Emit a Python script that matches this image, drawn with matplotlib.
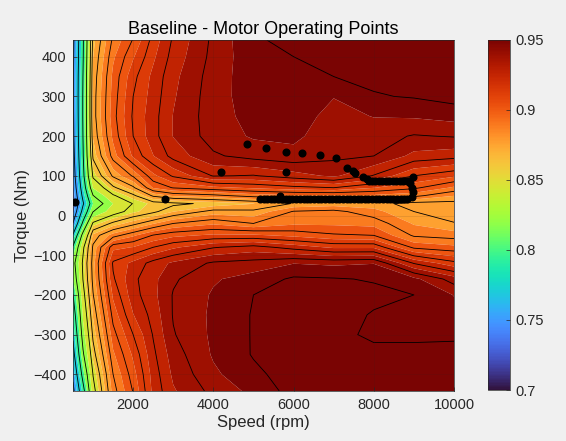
import numpy as np
import matplotlib
matplotlib.use("Agg")
import matplotlib.pyplot as plt
from matplotlib.colors import Normalize
from matplotlib.cm import ScalarMappable

plt.rcParams['font.family'] = ['Liberation Sans', 'DejaVu Sans']

# Efficiency map grid: speed columns (rpm) x torque rows (Nm)
speed_rpm = [500, 750, 1000, 1500, 2000, 2500, 3000, 4000, 5000, 6000, 7000, 8000, 9000, 10000]
torque_nm = [-442, -400, -350, -300, -250, -200, -160, -120, -80, -50, -20, 10, 30,
             50, 70, 100, 150, 200, 250, 300, 350, 400, 442]

# efficiency along torque_nm for each speed column
eff_500 = [0.752, 0.762, 0.775, 0.786, 0.796, 0.807, 0.820, 0.826, 0.810, 0.785, 0.758, 0.740, 0.733,
           0.737, 0.741, 0.746, 0.750, 0.753, 0.754, 0.755, 0.755, 0.754, 0.753]
eff_750 = [0.800, 0.815, 0.830, 0.840, 0.847, 0.853, 0.858, 0.860, 0.855, 0.840, 0.812, 0.790, 0.780,
           0.788, 0.795, 0.802, 0.806, 0.808, 0.809, 0.809, 0.808, 0.806, 0.805]
eff_1000 = [0.853, 0.858, 0.866, 0.872, 0.877, 0.882, 0.885, 0.886, 0.884, 0.878, 0.860, 0.832, 0.820,
            0.832, 0.846, 0.860, 0.872, 0.877, 0.879, 0.879, 0.878, 0.876, 0.874]
eff_1500 = [0.892, 0.895, 0.900, 0.905, 0.910, 0.915, 0.919, 0.921, 0.912, 0.892, 0.872, 0.852, 0.845,
            0.856, 0.868, 0.884, 0.898, 0.903, 0.905, 0.904, 0.903, 0.900, 0.8965]
eff_2000 = [0.908, 0.911, 0.915, 0.920, 0.926, 0.930, 0.931, 0.928, 0.914, 0.900, 0.880, 0.862, 0.858,
            0.868, 0.881, 0.896, 0.915, 0.920, 0.921, 0.920, 0.918, 0.913, 0.908]
eff_2500 = [0.928, 0.929, 0.931, 0.933, 0.935, 0.937, 0.937, 0.935, 0.920, 0.908, 0.888, 0.868, 0.866,
            0.884, 0.902, 0.912, 0.926, 0.930, 0.930, 0.929, 0.928, 0.925, 0.9225]
eff_3000 = [0.938, 0.940, 0.942, 0.9445, 0.9455, 0.9455, 0.944, 0.940, 0.925, 0.912, 0.895, 0.876, 0.868,
            0.890, 0.908, 0.921, 0.935, 0.939, 0.939, 0.938, 0.937, 0.935, 0.9335]
eff_4000 = [0.947, 0.950, 0.952, 0.9525, 0.9525, 0.952, 0.9505, 0.946, 0.932, 0.915, 0.900, 0.885, 0.872,
            0.893, 0.912, 0.933, 0.944, 0.948, 0.9485, 0.9485, 0.948, 0.947, 0.9465]
eff_5000 = [0.953, 0.956, 0.958, 0.958, 0.958, 0.9575, 0.954, 0.9475, 0.935, 0.915, 0.895, 0.884, 0.876,
            0.898, 0.915, 0.932, 0.9475, 0.952, 0.9535, 0.9545, 0.955, 0.9555, 0.9565]
eff_6000 = [0.960, 0.9605, 0.9605, 0.9605, 0.9605, 0.9605, 0.9585, 0.951, 0.930, 0.912, 0.900, 0.8955, 0.883,
            0.900, 0.918, 0.936, 0.9495, 0.9525, 0.9545, 0.956, 0.9565, 0.9575, 0.9595]
eff_7000 = [0.962, 0.961, 0.960, 0.959, 0.960, 0.960, 0.958, 0.950, 0.925, 0.9085, 0.900, 0.897, 0.885,
            0.900, 0.920, 0.940, 0.9465, 0.948, 0.949, 0.9515, 0.9575, 0.959, 0.961]
eff_8000 = [0.962, 0.961, 0.959, 0.9565, 0.957, 0.959, 0.957, 0.951, 0.925, 0.9075, 0.899, 0.891, 0.885,
            0.900, 0.914, 0.932, 0.945, 0.9475, 0.9515, 0.957, 0.959, 0.9605, 0.962]
eff_9000 = [0.962, 0.961, 0.959, 0.9565, 0.9565, 0.9575, 0.953, 0.932, 0.906, 0.894, 0.888, 0.8825, 0.880,
            0.897, 0.909, 0.920, 0.937, 0.9445, 0.952, 0.958, 0.9595, 0.961, 0.962]
eff_10000 = [0.962, 0.961, 0.9595, 0.9565, 0.954, 0.951, 0.942, 0.922, 0.903, 0.892, 0.883, 0.878, 0.880,
             0.889, 0.900, 0.915, 0.935, 0.9455, 0.9535, 0.960, 0.960, 0.961, 0.962]

# operating points of the drive cycle
op_speed = [560, 2800, 4200, 4830, 5320, 5800, 6220, 6650, 7070, 5820, 5670,
            7340, 7470, 7540, 7720, 7840, 8990,
            8910, 8960, 8990, 8960,
            7870, 7950, 8040, 8120, 8210, 8300, 8390, 8470, 8560, 8650, 8740, 8830, 8880,
            5170, 5250, 5340, 5440, 5520, 5610, 5700, 5800, 5890, 5970, 6060, 6160, 6250,
            6330, 6420, 6520, 6610, 6690, 6780, 6880, 6970, 7050, 7140, 7240, 7330, 7410,
            7500, 7600, 7690, 7770, 7860, 7960, 8050, 8130, 8220, 8320, 8410, 8490, 8580,
            8680, 8760, 8840]
op_torque = [34, 42, 110, 180, 170, 160, 157, 152, 145, 110, 49,
             120, 112, 107, 97, 92, 97,
             82, 69, 59, 47,
             87, 87, 87, 87, 87, 87, 87, 87, 87, 87, 87, 87, 86,
             42, 42, 42, 42, 42, 42, 42, 42, 42, 42, 42, 42, 42,
             42, 42, 42, 42, 42, 42, 42, 42, 42, 42, 42, 42, 42,
             42, 42, 42, 42, 42, 42, 42, 42, 42, 42, 42, 42, 42,
             42, 42, 42]

# contour line levels and fill boundaries (midway between lines)
line_levels = [0.7075, 0.7325, 0.7575, 0.7825, 0.8075, 0.8325, 0.8575, 0.87, 0.8825,
               0.895, 0.9075, 0.92, 0.9325, 0.945, 0.9575]
fill_levels = [0.5] + [0.5 * (a + b) for a, b in zip(line_levels[:-1], line_levels[1:])] + [1.0]

cmap = plt.get_cmap('turbo')
norm = Normalize(0.7, 0.95)
band_colors = [cmap(norm(np.clip(lo, 0.7, 0.95))) for lo in fill_levels[:-1]]
band_colors[0] = cmap(norm(0.70))
band_colors[1] = cmap(norm(0.735))
band_colors[2] = cmap(norm(0.752))

Z = np.column_stack([eff_500, eff_750, eff_1000, eff_1500, eff_2000, eff_2500, eff_3000,
                     eff_4000, eff_5000, eff_6000, eff_7000, eff_8000, eff_9000, eff_10000])
S = np.array(speed_rpm, dtype=float)
T = np.array(torque_nm, dtype=float)

bg = '#f0f0f0'
W, H = 566, 441
fig = plt.figure(figsize=(W / 100, H / 100), dpi=100, facecolor=bg)
ax = fig.add_axes([73 / W, 1 - 391 / H, (454 - 73) / W, (391 - 40) / H])
cax = fig.add_axes([488 / W, 1 - 390 / H, 22 / W, (390 - 40) / H])

ax.contourf(S, T, Z, levels=fill_levels, colors=band_colors, antialiased=True)
ax.contour(S, T, Z, levels=line_levels, colors='k', linewidths=0.6)
ax.plot(op_speed, op_torque, 'o', color='k', markersize=4.8, linestyle='none', zorder=4)

ax.set_xlim(500, 10000)
ax.set_ylim(-442, 442)
ax.set_xticks([2000, 4000, 6000, 8000, 10000])
ax.set_yticks(np.arange(-400, 401, 100))
ax.set_axisbelow(False)
ax.grid(True, color='#262626', alpha=0.15, linewidth=0.5)
ax.tick_params(direction='in', length=3, width=0.5, colors='#262626', labelsize=10.5, pad=5)
for sp in ax.spines.values():
    sp.set_color('#262626')
    sp.set_linewidth(0.5)

ax.set_xlabel('Speed (rpm)', fontsize=12, color='#262626', labelpad=2)
ax.set_ylabel('Torque (Nm)', fontsize=12, color='#262626', labelpad=2)
ax.set_title('Baseline - Motor Operating Points', fontsize=13, color='#000000', pad=4)

cb = fig.colorbar(ScalarMappable(norm=norm, cmap=cmap), cax=cax,
                  ticks=[0.7, 0.75, 0.8, 0.85, 0.9, 0.95])
cb.ax.set_yticklabels(['0.7', '0.75', '0.8', '0.85', '0.9', '0.95'])
cb.ax.tick_params(direction='in', length=3, width=0.5, colors='#262626', labelsize=10.5, pad=4)
cb.outline.set_edgecolor('#262626')
cb.outline.set_linewidth(0.5)

fig.savefig('out.png', dpi=100, facecolor=bg)
